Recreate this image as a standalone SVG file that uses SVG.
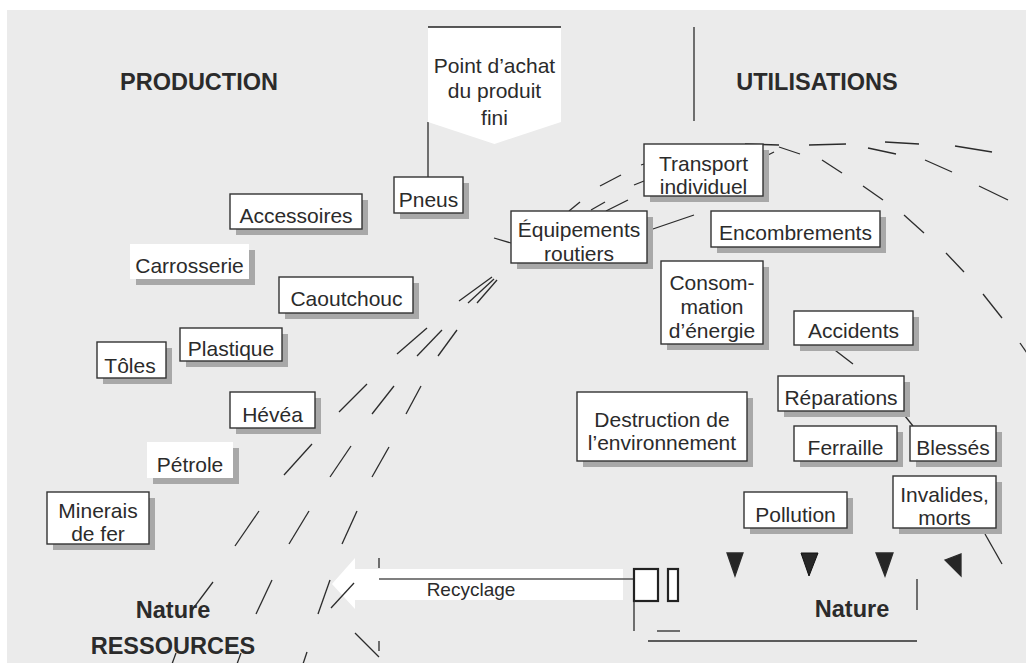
<svg xmlns="http://www.w3.org/2000/svg" width="1026" height="663" viewBox="0 0 1026 663">
<style>
.sh{fill:#a8a8a8}
.bx{fill:#fff;stroke:#333;stroke-width:1.4}
.nb{fill:#fff}
.t{font-family:'Liberation Sans',Arial,sans-serif;font-size:21px;fill:#2b2b2b;text-anchor:middle}
.h{font-family:'Liberation Sans',Arial,sans-serif;font-size:23.5px;font-weight:bold;fill:#2b2b2b;text-anchor:middle}
.d{stroke:#2b2b2b;stroke-width:1.3;fill:none;stroke-linecap:butt}
.tk{fill:#fff;stroke:#222;stroke-width:2.2}
.ah{fill:#262626}
</style>
<rect x="0" y="0" width="1026" height="663" fill="#fff"/>
<rect x="7" y="10" width="1019" height="653" fill="#ebebeb"/>

<g id="arcs" class="d">
<!-- upper-centre dashes -->
<line x1="600" y1="186" x2="621" y2="175"/>
<line x1="634" y1="185" x2="644" y2="181"/>
<line x1="641" y1="165" x2="644" y2="164"/>
<line x1="569" y1="211" x2="580" y2="202"/>
<line x1="591" y1="210" x2="605" y2="202"/>
<line x1="606" y1="211" x2="628" y2="200"/>
<!-- right arcs -->
<line x1="745" y1="144" x2="779" y2="145"/>
<line x1="768" y1="155" x2="774" y2="152"/>
<line x1="779" y1="147" x2="800" y2="154"/>
<line x1="822" y1="160" x2="842" y2="173"/>
<line x1="863" y1="186" x2="883" y2="200"/>
<line x1="904" y1="215" x2="924" y2="233"/>
<line x1="946" y1="253" x2="964" y2="272"/>
<line x1="983" y1="294" x2="1002" y2="318"/>
<line x1="1020" y1="343" x2="1027" y2="353"/>
<line x1="809" y1="145" x2="846" y2="144"/>
<line x1="868" y1="148" x2="896" y2="154"/>
<line x1="925" y1="160" x2="952" y2="172"/>
<line x1="979" y1="186" x2="1008" y2="200"/>
<line x1="885" y1="142" x2="919" y2="144"/>
<line x1="955" y1="146" x2="992" y2="152"/>
<!-- lower-left dashes -->
<line x1="459" y1="301" x2="492" y2="277"/>
<line x1="468" y1="303" x2="494" y2="279"/>
<line x1="477" y1="303" x2="497" y2="280"/>
<line x1="397" y1="354" x2="427" y2="328"/>
<line x1="417" y1="356" x2="442" y2="330"/>
<line x1="438" y1="356" x2="457" y2="330"/>
<line x1="339" y1="412" x2="367" y2="384"/>
<line x1="372" y1="414" x2="394" y2="386"/>
<line x1="406" y1="414" x2="421" y2="386"/>
<line x1="284" y1="475" x2="312" y2="444"/>
<line x1="330" y1="477" x2="351" y2="446"/>
<line x1="372" y1="477" x2="389" y2="447"/>
<line x1="235" y1="546" x2="259" y2="511"/>
<line x1="289" y1="544" x2="309" y2="511"/>
<line x1="342" y1="544" x2="357" y2="511"/>
</g>

<g id="recyclage">
<polygon points="332,584 355,558 355,569 623,569 623,600 355,600 355,609" fill="#fff"/>
<line x1="379" y1="579" x2="633" y2="579" stroke="#555" stroke-width="1.4"/>
<text class="t" x="471" y="596" style="font-size:19px">Recyclage</text>
<rect class="tk" x="634" y="569" width="24" height="32"/>
<rect class="tk" x="668" y="569" width="10" height="32"/>
</g>

<g id="lower-dashes" class="d">
<line x1="192" y1="610" x2="213" y2="582"/>
<line x1="256" y1="614" x2="272" y2="580"/>
<line x1="318" y1="614" x2="330" y2="580"/>
<line x1="331" y1="608" x2="354" y2="583"/>
<line x1="379" y1="558" x2="379" y2="568"/>
<line x1="355" y1="633" x2="379" y2="657"/>
<line x1="379" y1="641" x2="379" y2="651"/>
<line x1="172" y1="664" x2="176" y2="653"/>
<line x1="237" y1="664" x2="241" y2="653"/>
<line x1="303" y1="664" x2="307" y2="652"/>
</g>

<g id="connectors" class="d">
<line x1="428" y1="122" x2="428" y2="177"/>
<line x1="694" y1="27" x2="694" y2="121"/>
<line x1="494" y1="238" x2="511" y2="243"/>
<line x1="647" y1="231" x2="694" y2="215"/>
<line x1="827" y1="344" x2="853" y2="364"/>
<line x1="905" y1="416" x2="913" y2="426"/>
<line x1="985" y1="534" x2="1002" y2="564"/>
<line x1="634" y1="601" x2="634" y2="631"/>
<line x1="657" y1="631" x2="680" y2="631"/>
<line x1="648" y1="641" x2="917" y2="641"/>
<line x1="917" y1="579" x2="917" y2="610"/>
<polygon class="ah" points="727,553 743,553 735,576"/>
<polygon class="ah" points="801,553 818,553 809,576" stroke="#111" stroke-width="1"/>
<polygon class="ah" points="876,553 893,553 885,576"/>
<polygon class="ah" points="945,560 961,554 961,576"/>
</g>

<g id="labels">
<text class="h" x="199" y="90">PRODUCTION</text>
<text class="h" x="817" y="90">UTILISATIONS</text>
<text class="h" x="173" y="618">Nature</text>
<text class="h" x="173" y="654">RESSOURCES</text>
<text class="h" x="852" y="617">Nature</text>
</g>

<g id="point-achat">
<polygon points="428,27 561,27 561,122 494.5,144 428,122" fill="#fff"/>
<line x1="428" y1="27" x2="561" y2="27" stroke="#222" stroke-width="1.4"/>
<text class="t" x="494.5" y="73">Point d’achat</text>
<text class="t" x="494.5" y="98">du produit</text>
<text class="t" x="494.5" y="125">fini</text>
</g>

<g id="pneus"><rect class="sh" x="400" y="183" width="69" height="36"/><rect class="bx" x="394" y="177" width="69" height="36"/><text class="t" x="428.5" y="207">Pneus</text></g>
<g id="transport"><rect class="sh" x="650" y="150" width="119" height="52"/><rect class="bx" x="644" y="144" width="119" height="52"/><text class="t" x="703.5" y="171">Transport</text><text class="t" x="703.5" y="194">individuel</text></g>
<g id="equipements"><rect class="sh" x="517" y="217" width="136" height="52"/><rect class="bx" x="511" y="211" width="136" height="52"/><text class="t" x="579" y="237">Équipements</text><text class="t" x="579" y="261">routiers</text></g>
<g id="encombrements"><rect class="sh" x="717" y="217" width="169" height="36"/><rect class="bx" x="711" y="211" width="169" height="36"/><text class="t" x="795.5" y="240">Encombrements</text></g>
<g id="consommation"><rect class="sh" x="667" y="267" width="102" height="83"/><rect class="bx" x="661" y="261" width="102" height="83"/><text class="t" x="712" y="290">Consom-</text><text class="t" x="712" y="314">mation</text><text class="t" x="712" y="338">d’énergie</text></g>
<g id="accidents"><rect class="sh" x="800" y="317" width="119" height="34"/><rect class="bx" x="794" y="311" width="119" height="34"/><text class="t" x="853.5" y="338">Accidents</text></g>
<g id="reparations"><rect class="sh" x="784" y="382" width="126" height="35"/><rect class="bx" x="778" y="376" width="126" height="35"/><text class="t" x="841" y="405">Réparations</text></g>
<g id="destruction"><rect class="sh" x="583" y="398" width="170" height="69"/><rect class="bx" x="577" y="392" width="170" height="69"/><text class="t" x="662" y="427">Destruction de</text><text class="t" x="662" y="450">l’environnement</text></g>
<g id="ferraille"><rect class="sh" x="800" y="432" width="103" height="35"/><rect class="bx" x="794" y="426" width="103" height="35"/><text class="t" x="845.5" y="455">Ferraille</text></g>
<g id="blesses"><rect class="sh" x="916" y="432" width="86" height="35"/><rect class="bx" x="910" y="426" width="86" height="35"/><text class="t" x="953" y="455">Blessés</text></g>
<g id="pollution"><rect class="sh" x="750" y="498" width="103" height="36"/><rect class="bx" x="744" y="492" width="103" height="36"/><text class="t" x="795.5" y="522">Pollution</text></g>
<g id="invalides"><rect class="sh" x="899" y="482" width="103" height="52"/><rect class="bx" x="893" y="476" width="103" height="52"/><text class="t" x="944.5" y="502">Invalides,</text><text class="t" x="944.5" y="525">morts</text></g>
<g id="accessoires"><rect class="sh" x="236" y="200" width="132" height="35"/><rect class="bx" x="230" y="194" width="132" height="35"/><text class="t" x="296" y="223">Accessoires</text></g>
<g id="carrosserie"><rect class="sh" x="136" y="250" width="119" height="35"/><rect class="nb" x="130" y="244" width="119" height="35"/><text class="t" x="189.5" y="273">Carrosserie</text></g>
<g id="caoutchouc"><rect class="sh" x="285" y="283" width="134" height="36"/><rect class="bx" x="279" y="277" width="134" height="36"/><text class="t" x="346.5" y="306">Caoutchouc</text></g>
<g id="plastique"><rect class="sh" x="186" y="334" width="102" height="33"/><rect class="bx" x="180" y="328" width="102" height="33"/><text class="t" x="231" y="356">Plastique</text></g>
<g id="toles"><rect class="sh" x="103" y="348" width="69" height="36"/><rect class="bx" x="97" y="342" width="69" height="36"/><text class="t" x="130" y="373">Tôles</text></g>
<g id="hevea"><rect class="sh" x="236" y="398" width="85" height="36"/><rect class="bx" x="230" y="392" width="85" height="36"/><text class="t" x="272.5" y="422">Hévéa</text></g>
<g id="petrole"><rect class="sh" x="153" y="448" width="86" height="36"/><rect class="nb" x="147" y="442" width="86" height="36"/><text class="t" x="190" y="472">Pétrole</text></g>
<g id="minerais"><rect class="sh" x="53" y="498" width="102" height="52"/><rect class="bx" x="47" y="492" width="102" height="52"/><text class="t" x="98" y="518">Minerais</text><text class="t" x="98" y="541">de fer</text></g>
</svg>
